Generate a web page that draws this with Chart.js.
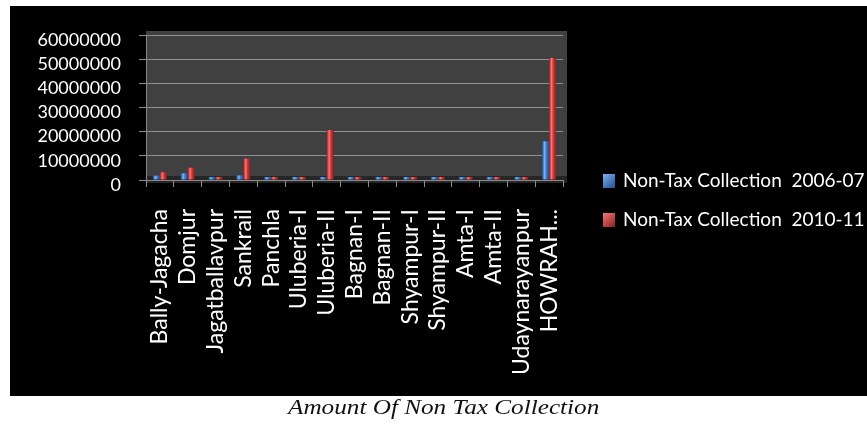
<!DOCTYPE html>
<html>
<head>
<meta charset="utf-8">
<script src="https://cdn.jsdelivr.net/npm/chart.js@4.4.1/dist/chart.umd.min.js"></script>
<style>
  html, body { margin: 0; padding: 0; background: #ffffff; width: 867px; height: 425px; overflow: hidden; }
  #wrap { position: absolute; left: 10px; top: 6px; width: 857px; height: 390px; background: #000000; }
  #caption {
    position: absolute; left: 288px; top: 395px; white-space: nowrap; line-height: 24px;
    font-family: "Liberation Serif", "Times New Roman", "DejaVu Serif", serif; font-style: italic;
    font-size: 21px; color: #111; transform: scaleX(1.2); transform-origin: 0 0;
  }
</style>
</head>
<body>
<div id="wrap"><canvas id="chart" width="857" height="390"></canvas></div>
<div id="caption">Amount Of Non Tax Collection</div>
<script>
// Blocks of Howrah district and the district total
const blocks = [
  "Bally-Jagacha", "Domjur", "Jagatballavpur", "Sankrail", "Panchla",
  "Uluberia-I", "Uluberia-II", "Bagnan-I", "Bagnan-II", "Shyampur-I",
  "Shyampur-II", "Amta-I", "Amta-II", "Udaynarayanpur", "HOWRAH..."
];

// Non-tax collection (Rs.)
const collection2006 = [
  1800000, 2800000, 600000, 1900000, 400000,
  500000, 500000, 1000000, 300000, 200000,
  300000, 200000, 200000, 1000000, 16000000
];
const collection2010 = [
  3200000, 5100000, 1100000, 8800000, 1100000,
  300000, 20700000, 1100000, 400000, 300000,
  800000, 600000, 1100000, 600000, 50500000
];

const seriesNames = ["Non-Tax Collection  2006-07", "Non-Tax Collection  2010-11"];
const yTicks = [0, 10000000, 20000000, 30000000, 40000000, 50000000, 60000000];

const FONT = "Lato, 'Open Sans', sans-serif";

const palette = [
  { dark: '#1f4f94', mid: '#3a7bd0', light: '#7fb2f0' },
  { dark: '#8e1c1c', mid: '#d23535', light: '#f47a7a' }
];

// Rounded-column shading: dark edges, bright band left of centre
function columnFill(ctx) {
  const chart = ctx.chart;
  const p = palette[ctx.datasetIndex];
  const xs = chart.scales.x;
  if (!chart.chartArea || !xs || ctx.dataIndex === undefined) return p.mid;
  const c = xs.getPixelForValue(ctx.dataIndex);
  const half = (xs.width / blocks.length) * 0.5 / 2;
  const x0 = ctx.datasetIndex === 0 ? c - half : c;
  const g = chart.ctx.createLinearGradient(x0, 0, x0 + half, 0);
  g.addColorStop(0, p.dark);
  g.addColorStop(0.35, p.light);
  g.addColorStop(0.6, p.mid);
  g.addColorStop(1, p.dark);
  return g;
}

// Dark plot wall behind the bars, with a darker floor strip
const wallPlugin = {
  id: 'wall',
  beforeDraw(chart) {
    const { ctx, chartArea: a } = chart;
    ctx.save();
    ctx.fillStyle = '#404040';
    ctx.fillRect(a.left, a.top - 4, a.right - a.left + 4, a.bottom - a.top + 4);
    ctx.fillStyle = '#262626';
    ctx.fillRect(a.left, a.bottom - 4, a.right - a.left + 4, 7);
    ctx.restore();
  }
};

// Legend drawn to the right of the plot
const sideLegend = {
  id: 'sideLegend',
  afterDraw(chart) {
    const { ctx } = chart;
    ctx.save();
    ctx.font = '19px ' + FONT;
    ctx.textBaseline = 'middle';
    chart.data.datasets.forEach((ds, i) => {
      const p = palette[i];
      const y = 168 + 39 * i;
      const g = ctx.createLinearGradient(593, y, 605, y + 14);
      g.addColorStop(0, p.light);
      g.addColorStop(1, p.dark);
      ctx.fillStyle = g;
      ctx.fillRect(593, y, 12, 14);
      ctx.fillStyle = '#ffffff';
      ctx.fillText(ds.label, 613, y + 7);
    });
    ctx.restore();
  }
};

new Chart(document.getElementById('chart'), {
  type: 'bar',
  data: {
    labels: blocks,
    datasets: [
      { label: seriesNames[0], data: collection2006, backgroundColor: columnFill },
      { label: seriesNames[1], data: collection2010, backgroundColor: columnFill }
    ]
  },
  options: {
    responsive: false,
    animation: false,
    layout: { padding: { left: 0, right: 304, top: 29, bottom: 0 } },
    datasets: { bar: { barPercentage: 1.0, categoryPercentage: 0.5, minBarLength: 3 } },
    plugins: { legend: { display: false }, tooltip: { enabled: false } },
    scales: {
      x: {
        afterFit(scale) { scale.height = 216; },
        grid: { display: true, drawOnChartArea: false, drawTicks: true, tickLength: 7, color: '#8a8a8a', offset: true },
        border: { display: true, color: '#8a8a8a' },
        ticks: {
          color: '#ffffff', font: { family: FONT, size: 23 },
          minRotation: 90, maxRotation: 90, autoSkip: false, padding: 22
        }
      },
      y: {
        min: 0, max: 60000000,
        afterFit(scale) { scale.width = 136; },
        afterBuildTicks(scale) { scale.ticks = yTicks.map(v => ({ value: v })); },
        grid: { color: '#909090', lineWidth: 1, tickLength: 7 },
        border: { display: true, color: '#8a8a8a' },
        ticks: {
          color: '#ffffff', font: { family: FONT, size: 18 },
          autoSkip: false, padding: 18, labelOffset: 5,
          callback: v => String(v)
        }
      }
    }
  },
  plugins: [wallPlugin, sideLegend]
});
</script>
</body>
</html>
